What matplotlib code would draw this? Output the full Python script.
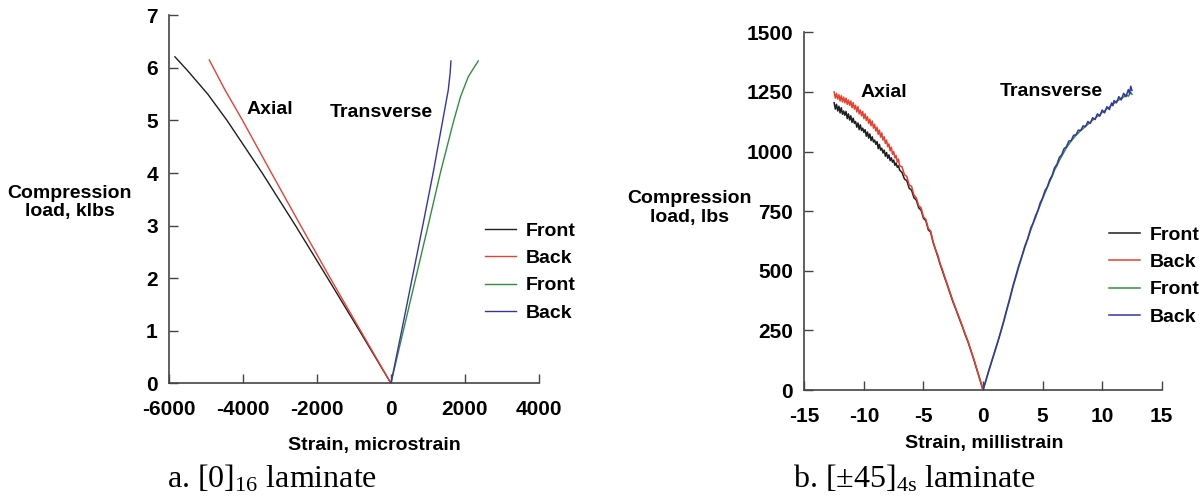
import matplotlib
matplotlib.use("Agg")
import matplotlib.pyplot as plt

plt.rcParams.update({
    'font.family': 'Liberation Sans',
    'font.size': 14,
    'axes.unicode_minus': False,
    'mathtext.fontset': 'custom',
    'mathtext.rm': 'Liberation Serif',
})

# ---- panel a: [0]16 laminate (strain in microstrain, load in klbs) ----
a_axial_front_x = [0, -850, -1710, -2580, -3480, -4430, -4950, -5500, -5838]
a_axial_front_y = [0, 1.0, 2.0, 3.0, 4.0, 5.0, 5.5, 5.95, 6.21]
a_axial_back_x = [0, -820, -1640, -2440, -3230, -4010, -4500, -4910]
a_axial_back_y = [0, 1.0, 2.0, 3.0, 4.0, 5.0, 5.6, 6.15]
a_trans_front_x = [0, 335, 670, 1005, 1335, 1680, 1880, 2090, 2240, 2360]
a_trans_front_y = [0, 1.0, 2.0, 3.0, 4.0, 4.95, 5.45, 5.83, 6.0, 6.13]
a_trans_back_x = [0, 290, 575, 860, 1140, 1400, 1550, 1600, 1622]
a_trans_back_y = [0, 1.0, 2.0, 3.0, 4.0, 5.0, 5.58, 5.9, 6.13]

# ---- panel b: [+-45]4s laminate (strain in millistrain, load in lbs) ----
b_axial_front_x = [-12.5, -12.4, -12.3, -12.2, -12.1, -12.0, -11.9, -11.8, -11.7, -11.6,
                   -11.5, -11.4, -11.3, -11.2, -11.1, -11.0, -10.9, -10.8, -10.7, -10.6,
                   -10.5, -10.4, -10.3, -10.2, -10.1, -10.0, -9.9, -9.8, -9.7, -9.6,
                   -9.5, -9.4, -9.3, -9.2, -9.1, -9.0, -8.9, -8.8, -8.7, -8.6,
                   -8.5, -8.4, -8.3, -8.2, -8.1, -8.0, -7.9, -7.8, -7.7, -7.6,
                   -7.5, -7.4, -7.3, -7.2, -7.1, -7.0, -6.8, -6.6, -6.4, -6.2,
                   -6.0, -5.8, -5.6, -5.4, -5.2, -5.0, -4.8, -4.6, -4.4, -4.2,
                   -4.0, -3.8, -3.6, -3.4, -3.2, -3.0, -2.75, -2.5, -2.25, -2.0,
                   -1.75, -1.5, -1.25, -1.0, -0.75, -0.5, -0.25, 0.0]
b_axial_front_y = [1205, 1178, 1198, 1170, 1190, 1162, 1184, 1156, 1170, 1152,
                   1168, 1138, 1158, 1132, 1150, 1122, 1140, 1118, 1126, 1102,
                   1120, 1092, 1112, 1088, 1098, 1080, 1092, 1064, 1082, 1056,
                   1074, 1046, 1062, 1040, 1048, 1030, 1042, 1012, 1030, 1006,
                   1014, 994, 1006, 980, 996, 972, 986, 962, 974, 955,
                   964, 942, 952, 934, 940, 922, 912, 885, 878, 846,
                   838, 806, 796, 764, 754, 720, 710, 672, 662, 620,
                   590, 560, 527, 498, 468, 440, 402, 366, 334, 300,
                   268, 232, 200, 162, 124, 82, 42, 0]
b_axial_back_x = [-12.5, -12.4, -12.3, -12.2, -12.1, -12.0, -11.9, -11.8, -11.7, -11.6,
                  -11.5, -11.4, -11.3, -11.2, -11.1, -11.0, -10.9, -10.8, -10.7, -10.6,
                  -10.5, -10.4, -10.3, -10.2, -10.1, -10.0, -9.9, -9.8, -9.7, -9.6,
                  -9.5, -9.4, -9.3, -9.2, -9.1, -9.0, -8.9, -8.8, -8.7, -8.6,
                  -8.5, -8.4, -8.3, -8.2, -8.1, -8.0, -7.9, -7.8, -7.7, -7.6,
                  -7.5, -7.4, -7.3, -7.2, -7.1, -7.0, -6.8, -6.6, -6.4, -6.2,
                  -6.0, -5.8, -5.6, -5.4, -5.2, -5.0, -4.8, -4.6, -4.4, -4.2,
                  -4.0, -3.8, -3.6, -3.4, -3.2, -3.0, -2.75, -2.5, -2.25, -2.0,
                  -1.75, -1.5, -1.25, -1.0, -0.75, -0.5, -0.25, 0.0]
b_axial_back_y = [1250, 1224, 1244, 1220, 1238, 1212, 1234, 1208, 1228, 1204,
                  1224, 1198, 1216, 1194, 1212, 1184, 1205, 1178, 1194, 1166,
                  1188, 1158, 1174, 1150, 1168, 1138, 1158, 1130, 1146, 1118,
                  1136, 1108, 1128, 1098, 1114, 1086, 1102, 1072, 1090, 1060,
                  1078, 1048, 1062, 1034, 1048, 1020, 1032, 1003, 1018, 988,
                  1000, 973, 984, 956, 968, 940, 936, 903, 896, 860,
                  854, 818, 806, 773, 764, 726, 716, 678, 667, 624,
                  592, 566, 530, 503, 472, 443, 406, 370, 336, 304,
                  270, 236, 202, 164, 126, 84, 43, 0]
b_trans_front_x = [0.0, 0.25, 0.5, 0.75, 1.0, 1.25, 1.5, 1.75, 2.0, 2.25,
                   2.5, 2.75, 3.0, 3.25, 3.5, 3.75, 4.0, 4.2, 4.4, 4.6,
                   4.8, 5.0, 5.2, 5.4, 5.6, 5.8, 6.0, 6.2, 6.4, 6.6,
                   6.8, 7.0, 7.2, 7.4, 7.6, 7.8, 8.0, 8.2, 8.4, 8.6,
                   8.8, 9.0, 9.2, 9.4, 9.6, 9.8, 10.0, 10.2, 10.4, 10.6,
                   10.8, 11.0, 11.2, 11.4, 11.6, 11.8, 12.0, 12.2, 12.4, 12.5]
b_trans_front_y = [0, 40, 82, 122, 162, 202, 244, 288, 335, 380,
                   430, 472, 516, 556, 596, 632, 670, 698, 722, 750,
                   776, 802, 826, 850, 874, 895, 922, 940, 962, 980,
                   998, 1016, 1030, 1044, 1056, 1068, 1078, 1088, 1096, 1106,
                   1114, 1122, 1132, 1138, 1148, 1154, 1164, 1170, 1180, 1186,
                   1196, 1202, 1210, 1216, 1224, 1228, 1238, 1232, 1248, 1240]
b_trans_back_x = [0.0, 0.25, 0.5, 0.75, 1.0, 1.25, 1.5, 1.75, 2.0, 2.25,
                  2.5, 2.75, 3.0, 3.25, 3.5, 3.75, 4.0, 4.2, 4.4, 4.6,
                  4.8, 5.0, 5.2, 5.4, 5.6, 5.8, 6.0, 6.2, 6.4, 6.6,
                  6.8, 7.0, 7.2, 7.4, 7.6, 7.8, 8.0, 8.2, 8.4, 8.6,
                  8.8, 9.0, 9.2, 9.4, 9.6, 9.8, 10.0, 10.2, 10.4, 10.6,
                  10.8, 10.9, 11.0, 11.2, 11.4, 11.6, 11.8, 12.0, 12.2, 12.3,
                  12.4, 12.5]
b_trans_back_y = [0, 42, 85, 125, 165, 205, 248, 292, 340, 385,
                  435, 478, 522, 560, 602, 635, 678, 700, 730, 752,
                  785, 805, 836, 852, 882, 900, 932, 946, 975, 986,
                  1012, 1020, 1044, 1046, 1068, 1070, 1090, 1088, 1108, 1104,
                  1126, 1118, 1142, 1134, 1158, 1148, 1174, 1162, 1188, 1176,
                  1204, 1192, 1214, 1204, 1230, 1216, 1244, 1230, 1260, 1242,
                  1274, 1256]

legend_labels = ['Front', 'Back', 'Front', 'Back']
colors = ['#1e1e1e', '#e8402f', '#2f8f3f', '#3535a5']
tick_color = '#444444'

fig = plt.figure(figsize=(12, 5), dpi=100)
ax1 = fig.add_axes([0.1408, 0.2334, 0.3083, 0.736])
ax2 = fig.add_axes([0.6703, 0.22, 0.2978, 0.7154])


def style_axes(ax):
    for side in ['top', 'right']:
        ax.spines[side].set_visible(False)
    for side in ['left', 'bottom']:
        ax.spines[side].set_color(tick_color)
        ax.spines[side].set_linewidth(1.2)
    ax.tick_params(direction='in', length=6.5, width=1, color=tick_color,
                   labelsize=15)
    ax.tick_params(axis='x', pad=12)
    ax.tick_params(axis='y', pad=8)
    for lbl in ax.get_xticklabels() + ax.get_yticklabels():
        lbl.set_fontweight('bold')


def add_legend(ax, anchor):
    ax.legend(loc='upper left', bbox_to_anchor=anchor, frameon=False,
              borderpad=0, borderaxespad=0, handlelength=1.6, handletextpad=0.5,
              labelspacing=0.5, prop={'weight': 'bold', 'size': 14})


# panel a
series_a = [(a_axial_front_x, a_axial_front_y), (a_axial_back_x, a_axial_back_y),
            (a_trans_front_x, a_trans_front_y), (a_trans_back_x, a_trans_back_y)]
for (x, y), c, lab in zip(series_a, colors, legend_labels):
    ax1.plot(x, y, color=c, lw=1.0, label=lab)
ax1.set_xlim(-6000, 4000)
ax1.set_ylim(0, 7)
ax1.set_xticks(range(-6000, 4001, 2000))
ax1.set_yticks(range(0, 8))
style_axes(ax1)
ax1.text(-3900, 5.2, 'Axial', ha='left', va='center', weight='bold')
ax1.text(-1650, 5.16, 'Transverse', ha='left', va='center', weight='bold')
ax1.text(-0.268, 0.491, 'Compression\nload, klbs', transform=ax1.transAxes,
         ha='center', va='center', multialignment='center', linespacing=1.1,
         weight='bold')
ax1.text(0.554, -0.170, 'Strain, microstrain', transform=ax1.transAxes,
         ha='center', va='center', weight='bold')
add_legend(ax1, (0.855, 0.438))

# panel b
series_b = [(b_axial_front_x, b_axial_front_y), (b_axial_back_x, b_axial_back_y),
            (b_trans_front_x, b_trans_front_y), (b_trans_back_x, b_trans_back_y)]
for (x, y), c, lab in zip(series_b, colors, legend_labels):
    ax2.plot(x, y, color=c, lw=1.1, label=lab)
ax2.set_xlim(-15, 15)
ax2.set_ylim(0, 1500)
ax2.set_xticks(range(-15, 16, 5))
ax2.set_yticks(range(0, 1501, 250))
style_axes(ax2)
ax2.text(-10.3, 1247, 'Axial', ha='left', va='center', weight='bold')
ax2.text(1.4, 1250, 'Transverse', ha='left', va='center', weight='bold')
ax2.text(-0.321, 0.509, 'Compression\nload, lbs', transform=ax2.transAxes,
         ha='center', va='center', multialignment='center', linespacing=1.1,
         weight='bold')
ax2.text(0.504, -0.149, 'Strain, millistrain', transform=ax2.transAxes,
         ha='center', va='center', weight='bold')
add_legend(ax2, (0.853, 0.458))

# captions
fig.text(0.227, 0.024, r'a. $\mathrm{[0]_{16}}$ laminate', ha='center',
         va='baseline', family='Liberation Serif', fontsize=23)
fig.text(0.762, 0.024, r'b. $\mathrm{[\pm 45]_{4s}}$ laminate', ha='center',
         va='baseline', family='Liberation Serif', fontsize=23)

fig.savefig('out.png', dpi=100)
